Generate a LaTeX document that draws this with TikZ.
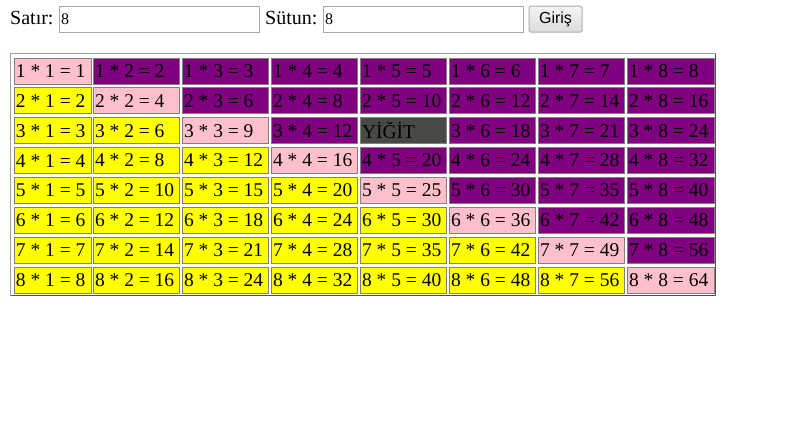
\documentclass[tikz,border=0pt]{standalone}
\usepackage{fontspec}
\setmainfont{Liberation Serif}
\newfontfamily\uifont{Liberation Sans}
\definecolor{cpink}{HTML}{FFC0CB}
\definecolor{cpurple}{HTML}{800080}
\definecolor{cyellow}{HTML}{FFFF00}
\definecolor{cdark}{HTML}{474944}
\definecolor{cellborder}{HTML}{808080}
\definecolor{inputborder}{HTML}{A9A9A9}
\definecolor{btnborder}{HTML}{ADADAD}
\definecolor{tbllight}{HTML}{A0A0A0}
\definecolor{tbldark}{HTML}{505050}
\begin{document}
\begin{tikzpicture}[x=1pt,y=-1pt,
  cell/.style={draw=cellborder, line width=1pt, anchor=north west, inner xsep=2pt, inner ysep=0pt,
    minimum height=26pt, font=\fontsize{19.5}{22}\selectfont},
  lbl/.style={anchor=base west, inner sep=0pt, font=\fontsize{20}{22}\selectfont},
  inputbox/.style={draw=inputborder, line width=1pt, anchor=north west, inner xsep=2pt, inner ysep=0pt,
    minimum height=26pt, text width=196pt, align=left, font=\fontsize{16}{18}\selectfont},
  btn/.style={draw=btnborder, line width=1pt, rounded corners=1.5pt, anchor=north west, inner sep=0pt,
    minimum width=53pt, minimum height=26pt, top color=white!96!black, bottom color=white!86!black,
    font=\uifont\fontsize{16}{18}\selectfont}
]
\useasboundingbox (0,0) rectangle (796,439);
% top form
\node[lbl] (satir) at (10,24) {Satır:};
\node[inputbox] (in1) at (58.5,5.5) {8};
\node[lbl] (sutun) at (265,24) {Sütun:};
\node[inputbox] (in2) at (322.5,5.5) {8};
\node[btn] (giris) at (528.5,5.5) {Giriş};
% table outer border
\draw[tbllight, line width=1pt] (10.5,295.5) -- (10.5,53.5) -- (715.5,53.5);
\draw[tbldark, line width=1pt] (715.5,53.5) -- (715.5,295.5) -- (10.5,295.5);
% cells
\foreach \i in {1,...,8}{
  \foreach \j/\x/\w in {1/13/78,2/92/87,3/181/87,4/270/87,5/359/87,6/448/87,7/537/87,8/626/88}{
    \pgfmathsetmacro\y{57+(\i-1)*29.857}
    \pgfmathtruncatemacro\p{\i*\j}
    \pgfmathsetmacro\tw{\w-5}
    \ifnum\i=\j \def\cc{cpink}\else\ifnum\j<\i \def\cc{cyellow}\else\def\cc{cpurple}\fi\fi
    \def\tx{\i{} * \j{} = \p}
    \ifnum\i=3 \ifnum\j=5 \def\cc{cdark}\def\tx{YİĞİT}\fi\fi
    \node[cell, fill=\cc] (c\i\j) at (\x+0.5,\y+0.5) {\makebox[\tw pt][l]{\tx}};
  }
}
\end{tikzpicture}
\end{document}
